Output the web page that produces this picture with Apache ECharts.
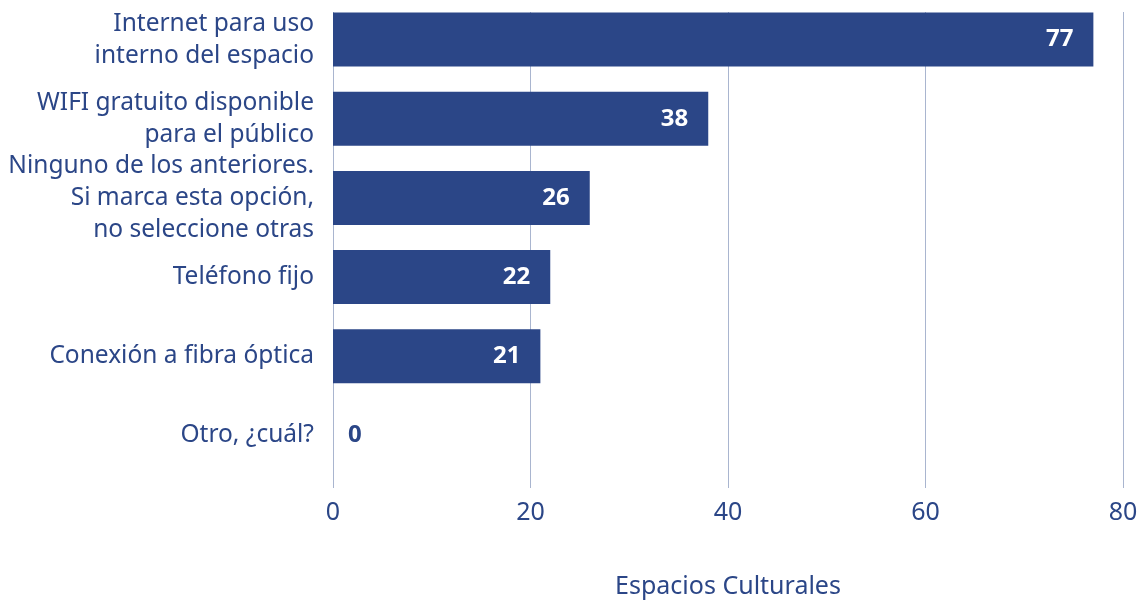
<!DOCTYPE html>
<html><head><meta charset="utf-8">
<script src="https://cdn.jsdelivr.net/npm/echarts@6/dist/echarts.min.js"></script>
<style>html,body{margin:0;padding:0;background:#fff}#c{width:1142px;height:604px}</style>
</head><body><div id="c"></div>
<script>
const categories = [
  "Internet para uso\ninterno del espacio",
  "WIFI gratuito disponible\npara el público",
  "Ninguno de los anteriores.\nSi marca esta opción,\nno seleccione otras",
  "Teléfono fijo",
  "Conexión a fibra óptica",
  "Otro, ¿cuál?"
];
const values = [77, 38, 26, 22, 21, 0];
const xTicks = [0, 20, 40, 60, 80];
const axisTitle = "Espacios Culturales";

const BLUE = '#2b4687';
const FONT = 'Noto Sans';
const chart = echarts.init(document.getElementById('c'));
chart.setOption({
  animation: false,
  grid: [
    {left: 333, right: 19, top: 0, height: 475},
    {left: 333, right: 19, top: 12, bottom: 110}
  ],
  xAxis: [
    {gridIndex: 0, type: 'value', min: xTicks[0], max: xTicks[xTicks.length-1], interval: 20,
     show: false},
    {gridIndex: 1, type: 'value', min: xTicks[0], max: xTicks[xTicks.length-1], interval: 20,
     axisLine: {show: false}, axisTick: {show: false},
     splitLine: {show: true, lineStyle: {color: '#a9b5cf', width: 1}},
     axisLabel: {color: BLUE, fontFamily: FONT, fontSize: 25, margin: 12},
     name: axisTitle, nameLocation: 'middle', nameGap: 86,
     nameTextStyle: {color: BLUE, fontFamily: FONT, fontSize: 25}}
  ],
  yAxis: [
    {gridIndex: 0, type: 'category', data: categories, inverse: true,
     axisLine: {show: false}, axisTick: {show: false}, splitLine: {show: false},
     axisLabel: {color: BLUE, fontFamily: FONT, fontSize: 24.5, lineHeight: 32, margin: 19, align: 'right'}},
    {gridIndex: 1, type: 'value', show: false, min: 0, max: 1}
  ],
  series: [{
    type: 'bar', xAxisIndex: 0, yAxisIndex: 0, z: 5,
    barWidth: 54,
    itemStyle: {color: BLUE},
    label: {show: true, position: 'insideRight', distance: 20, color: '#fff',
            fontFamily: FONT, fontWeight: 'bold', fontSize: 24},
    data: values.map(v => v === 0
      ? {value: v, label: {position: 'right', distance: 15, color: BLUE}}
      : v)
  }]
});
</script></body></html>
